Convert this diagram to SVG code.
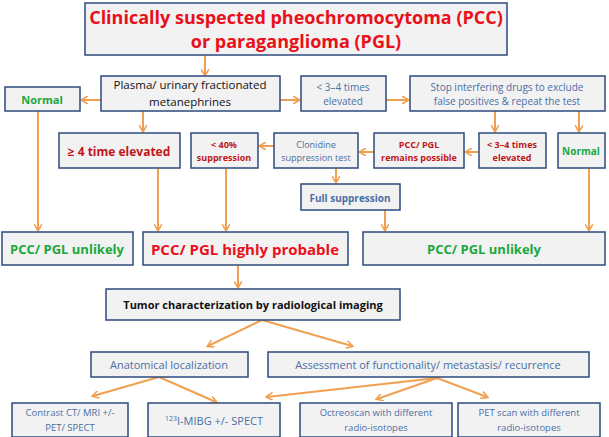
<svg xmlns="http://www.w3.org/2000/svg" width="609" height="437" viewBox="0 0 609 437">
<style>
.b{fill:#f2f2f2;stroke:#2e4a7d;stroke-width:1.5}
.c line,.c polyline{stroke:#f0a050;stroke-width:2;fill:none;marker-end:url(#a)}
text{font-family:"Open Sans","Liberation Sans",sans-serif;text-anchor:middle}
.r{fill:#e8101a;font-weight:bold}
.dr{fill:#c0161a;font-weight:bold}
.g{fill:#1aa83c;font-weight:bold}
.bl{fill:#4a6fa5}
.k{fill:#111}
</style>
<defs><marker id="a" markerWidth="8" markerHeight="8" refX="6" refY="4" orient="auto" markerUnits="userSpaceOnUse"><path d="M0,0 L7,4 L0,8" fill="none" stroke="#f0a050" stroke-width="1.6"/></marker></defs>
<g class="c">
<line x1="205" y1="55" x2="205" y2="75"/>
<line x1="101" y1="100" x2="82" y2="100"/>
<line x1="280" y1="100" x2="299" y2="100"/>
<line x1="386" y1="100" x2="408" y2="100"/>
<line x1="143" y1="111" x2="143" y2="131"/>
<line x1="495" y1="111" x2="495" y2="131"/>
<line x1="579" y1="111" x2="579" y2="131"/>
<line x1="479" y1="152" x2="466" y2="152"/>
<line x1="374" y1="152" x2="360" y2="152"/>
<line x1="274" y1="146" x2="260" y2="146"/>
<line x1="336" y1="168" x2="336" y2="182"/>
<line x1="38" y1="111" x2="38" y2="230"/>
<line x1="158" y1="168" x2="158" y2="230"/>
<line x1="226" y1="168" x2="226" y2="230"/>
<line x1="385" y1="210" x2="385" y2="230"/>
<line x1="589" y1="168" x2="589" y2="230"/>
<line x1="238" y1="265" x2="238" y2="287"/>
<line x1="262" y1="320" x2="208" y2="346"/>
<line x1="262" y1="320" x2="352" y2="346"/>
<line x1="159" y1="377" x2="93" y2="396"/>
<line x1="159" y1="377" x2="216" y2="402"/>
<line x1="437" y1="378" x2="267" y2="397"/>
<line x1="437" y1="378" x2="377" y2="399"/>
<line x1="437" y1="378" x2="487" y2="397"/>
</g>
<g id="top"><rect class="b" x="85" y="3" width="422" height="52"/><text class="r" x="296" y="24" font-size="18">Clinically suspected pheochromocytoma (PCC)</text><text class="r" x="296" y="48" font-size="18">or paraganglioma (PGL)</text></g>
<g id="plasma"><rect class="b" x="101" y="76" width="179" height="35"/><text class="k" x="190" y="89" font-size="11.5">Plasma/ urinary fractionated</text><text class="k" x="190" y="106" font-size="11.5">metanephrines</text></g>
<g id="normal1"><rect class="b" x="5" y="87" width="75" height="24"/><text class="g" x="42" y="104" font-size="11">Normal</text></g>
<g id="lt34a"><rect class="b" x="301" y="76" width="85" height="35"/><text class="bl" x="343" y="91" font-size="10">&lt; 3–4 times</text><text class="bl" x="343" y="105" font-size="10">elevated</text></g>
<g id="stop"><rect class="b" x="410" y="76" width="195" height="35"/><text class="bl" x="507" y="91" font-size="10">Stop interfering  drugs to exclude</text><text class="bl" x="507" y="105" font-size="10">false positives  &amp; repeat the test</text></g>
<g id="ge4"><rect class="b" x="59" y="133" width="121" height="35"/><text class="dr" x="119" y="156" font-size="12">≥ 4 time elevated</text></g>
<g id="lt40"><rect class="b" x="191" y="133" width="67" height="35"/><text class="dr" x="224" y="148" font-size="9">&lt; 40%</text><text class="dr" x="224" y="161" font-size="9">suppression</text></g>
<g id="clon"><rect class="b" x="274" y="133" width="84" height="35"/><text class="bl" x="316" y="148" font-size="9">Clonidine</text><text class="bl" x="316" y="161" font-size="9">suppression test</text></g>
<g id="remains"><rect class="b" x="374" y="133" width="90" height="35"/><text class="dr" x="419" y="148" font-size="9">PCC/ PGL</text><text class="dr" x="419" y="161" font-size="9">remains possible</text></g>
<g id="lt34b"><rect class="b" x="479" y="133" width="67" height="35"/><text class="dr" x="512" y="148" font-size="9">&lt; 3–4 times</text><text class="dr" x="512" y="161" font-size="9">elevated</text></g>
<g id="normal2"><rect class="b" x="558" y="133" width="47" height="35"/><text class="g" x="581" y="155" font-size="10">Normal</text></g>
<g id="full"><rect class="b" x="301" y="184" width="99" height="26"/><text class="bl" x="350" y="202" font-size="10" font-weight="bold">Full suppression</text></g>
<g id="unl1"><rect class="b" x="2" y="232" width="131" height="33"/><text class="g" x="67" y="254" font-size="13">PCC/ PGL unlikely</text></g>
<g id="prob"><rect class="b" x="143" y="232" width="205" height="33"/><text class="r" x="245" y="255" font-size="15">PCC/ PGL highly probable</text></g>
<g id="unl2"><rect class="b" x="363" y="232" width="242" height="33"/><text class="g" x="484" y="254" font-size="13">PCC/ PGL unlikely</text></g>
<g id="tumor"><rect class="b" x="106" y="289" width="294" height="31"/><text class="k" x="253" y="309" font-size="11" font-weight="bold">Tumor characterization by radiological imaging</text></g>
<g id="anat"><rect class="b" x="91" y="352" width="157" height="25"/><text class="bl" x="169" y="369" font-size="11">Anatomical localization</text></g>
<g id="assess"><rect class="b" x="268" y="352" width="321" height="25"/><text class="bl" x="428" y="369" font-size="11">Assessment of functionality/ metastasis/ recurrence</text></g>
<g id="ct"><rect class="b" x="12" y="403" width="116" height="34"/><text class="bl" x="70" y="416" font-size="9.5">Contrast CT/ MRI +/-</text><text class="bl" x="70" y="431" font-size="9.5">PET/ SPECT</text></g>
<g id="mibg"><rect class="b" x="148" y="403" width="132" height="34"/><text class="bl" x="214" y="425" font-size="11"><tspan font-size="7" dy="-4">123</tspan><tspan dy="4">I-MIBG +/- SPECT</tspan></text></g>
<g id="octreo"><rect class="b" x="300" y="403" width="152" height="34"/><text class="bl" x="376" y="416" font-size="9.5">Octreoscan with different</text><text class="bl" x="376" y="431" font-size="9.5">radio-isotopes</text></g>
<g id="pet"><rect class="b" x="458" y="403" width="142" height="34"/><text class="bl" x="529" y="416" font-size="9.5">PET scan with different</text><text class="bl" x="529" y="431" font-size="9.5">radio-isotopes</text></g>
</svg>
